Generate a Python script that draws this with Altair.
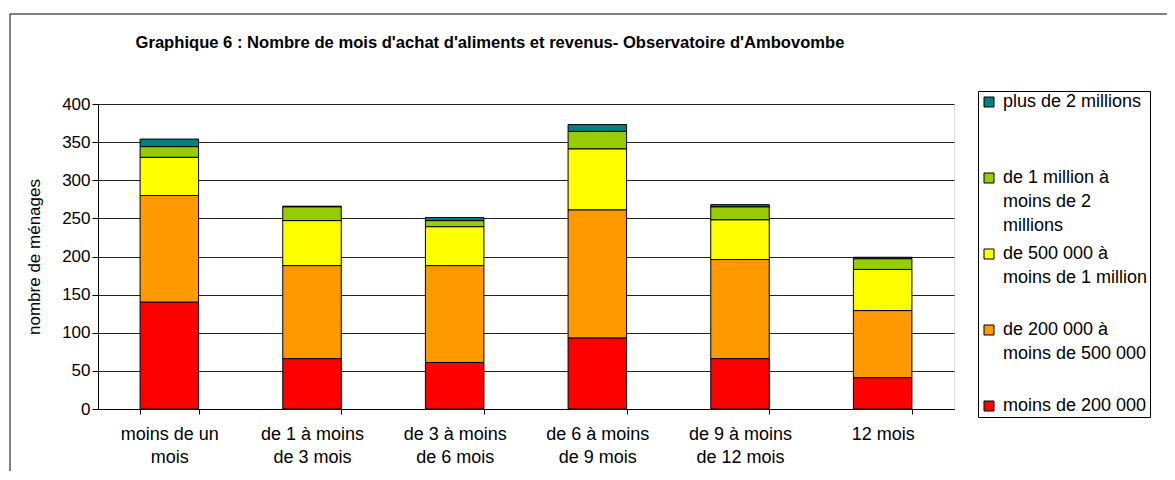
import altair as alt
import pandas as pd

categories = ["moins de un|mois", "de 1 à moins|de 3 mois", "de 3 à moins|de 6 mois",
              "de 6 à moins|de 9 mois", "de 9 à moins|de 12 mois", "12 mois"]
series = ["plus de 2 millions", "de 1 million à|moins de 2|millions",
          "de 500 000 à|moins de 1 million", "de 200 000 à|moins de 500 000",
          "moins de 200 000"]
colors = ["#008080", "#99CC00", "#FFFF00", "#FF9900", "#FF0000"]

moins_200k = [140, 66, 61, 93, 66, 41]
de_200k_500k = [140, 122, 127, 168, 130, 88]
de_500k_1m = [50, 59, 51, 80, 52, 54]
de_1m_2m = [14, 18, 8, 23, 17, 14]
plus_2m = [10, 1, 4, 9, 3, 2]

values_by_series = [plus_2m, de_1m_2m, de_500k_1m, de_200k_500k, moins_200k]

rows = []
for s_idx, (s, vals) in enumerate(zip(series, values_by_series)):
    for c, v in zip(categories, vals):
        rows.append({"cat": c, "serie": s, "val": v, "ord": len(series) - s_idx})
df = pd.DataFrame(rows)

FONT = "Liberation Sans"

bars = alt.Chart(df).mark_bar(stroke="black", strokeWidth=1).encode(
    x=alt.X("cat:N", sort=categories, title=None,
            scale=alt.Scale(paddingInner=0.59, paddingOuter=0.295),
            axis=alt.Axis(labelExpr="split(datum.label, '|')", labelAngle=0,
                          labelFontSize=18, labelFont=FONT, labelColor="black",
                          labelPadding=11, ticks=True, tickBand="extent",
                          tickColor="black", tickSize=5, domainColor="black",
                          labelLineHeight=23)),
    y=alt.Y("val:Q", stack="zero", title="nombre de ménages",
            scale=alt.Scale(domain=[0, 400]),
            axis=alt.Axis(values=list(range(0, 401, 50)), labelFontSize=17,
                          labelFont=FONT, labelColor="black", titleFont=FONT,
                          titleFontSize=17, titleFontWeight="normal",
                          titleColor="black", titlePadding=18, labelPadding=2,
                          domainColor="black", tickColor="black", tickSize=6,
                          gridColor="#222222", gridWidth=1)),
    color=alt.Color("serie:N", scale=alt.Scale(domain=series, range=colors),
                    title=None,
                    legend=alt.Legend(orient="none", legendX=880, legendY=-13,
                                      labelExpr="split(datum.label, '|')",
                                      labelFont=FONT, labelFontSize=18,
                                      labelColor="black", symbolType="square",
                                      symbolSize=100, symbolStrokeColor="black",
                                      symbolStrokeWidth=1, labelOffset=5,
                                      gridAlign="all", rowPadding=10,
                                      labelLimit=300,
                                      strokeColor="black", padding=2,
                                      fillColor="white")),
    order=alt.Order("ord:Q"),
)

frame = alt.Chart(pd.DataFrame({"k": [0]})).mark_rect(
    fill=None, stroke="black", strokeWidth=1
).encode(x=alt.value(-88), x2=alt.value(1090), y=alt.value(-90), y2=alt.value(380))

chart = alt.layer(frame, bars).properties(
    width=856, height=305,
    padding={"left": 90, "top": 96, "right": 213, "bottom": 62},
    autosize=alt.AutoSizeParams(type="none"),
    title=alt.TitleParams("Graphique 6 : Nombre de mois d'achat d'aliments et revenus- Observatoire d'Ambovombe",
                          font=FONT, fontSize=16.6, fontWeight="bold", color="black",
                          anchor="middle", dx=-36, offset=-38),
).configure_view(stroke="#999999", strokeWidth=1).configure(
    background="white",
    style={"guide-label": {"lineHeight": 24}},
)

chart.save("out.html", embed_options={"renderer": "svg", "actions": False})
